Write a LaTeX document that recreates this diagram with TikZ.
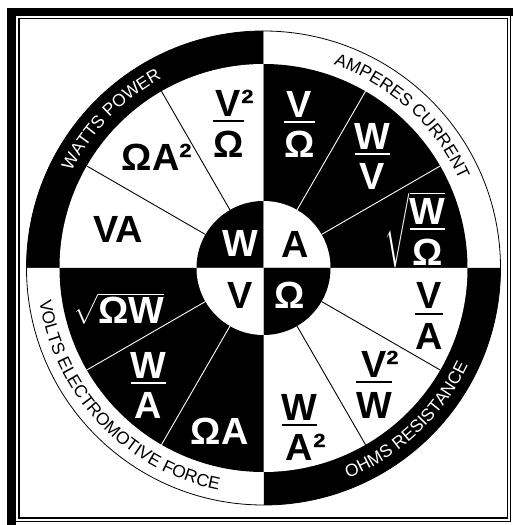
\documentclass[tikz,border=0pt]{standalone}
\usepackage{amsmath}
\usepackage{fontspec}
\setmainfont{Liberation Sans}
\usetikzlibrary{decorations.text}
\setlength{\arrayrulewidth}{2pt}
\renewcommand{\arraystretch}{0}
% superscript two that does not widen the fraction
\newcommand{\sqd}{\rlap{²}}
\newcommand{\frc}[2]{\begin{tabular}{@{}c@{}}#1\rule[-4pt]{0pt}{0pt}\\\hline\rule{0pt}{35pt}#2\end{tabular}}
\newcommand{\ringfont}{\fontsize{17.5}{18}\selectfont}
\tikzset{
  big/.style={font=\bfseries\fontsize{38}{40}\selectfont, inner sep=0pt},
  bigw/.style={big, text=white},
  ringtext/.style={decorate, decoration={text along path, text align=center, text color=#1}},
  spoke/.style={line width=0.9pt, draw=#1}
}

\begin{document}
\begin{tikzpicture}[x=1bp, y=1bp]
\useasboundingbox (-263.5,-257) rectangle (249.5,268);
\fill[white] (-263.5,-257) rectangle (249.5,268);

% frame
\begin{scope}[shift={(-263.5,268)}, yscale=-1]
  \fill (7.5,8) rectangle (16,525);
  \fill (7.5,8) rectangle (513,16);
  \draw[line width=1.3] (19,18.5) rectangle (507.5,518);
  \draw[line width=1.3] (510.5,16) -- (510.5,521.5) -- (16,521.5);
\end{scope}

% quadrants: ring, sector, hub
\foreach \a/\r/\m in {90/black/white, 0/white/black, 270/black/white, 180/white/black} {
  \fill[\r] (0,0) -- (\a:237) arc[start angle=\a, delta angle=90, radius=237] -- cycle;
  \fill[\m] (0,0) -- (\a:204) arc[start angle=\a, delta angle=90, radius=204] -- cycle;
  \fill[\r] (0,0) -- (\a:67) arc[start angle=\a, delta angle=90, radius=67] -- cycle;
}
\draw[line width=0.8] (0,0) circle[radius=237];

\foreach \a/\c in {30/white, 60/white, 120/black, 150/black, 210/white, 240/white, 300/black, 330/black}
  \draw[spoke=\c] (\a:67) -- (\a:204);

% ring labels
\path[ringtext=white, decoration={text={|\ringfont|WATTS POWER}}]
  (185.75:215) arc[start angle=185.75, end angle=85.75, radius=215];
\path[ringtext=black, decoration={text={|\ringfont|AMPERES CURRENT}}]
  (97.6:215) arc[start angle=97.6, end angle=-2.4, radius=215];
\path[ringtext=white, decoration={text={|\ringfont|OHMS RESISTANCE}}]
  (-96.75:226.5) arc[start angle=-96.75, end angle=3.25, radius=226.5];
\path[ringtext=black, decoration={text={|\ringfont|VOLTS ELECTROMOTIVE FORCE}}]
  (168.5:226.5) arc[start angle=168.5, end angle=278.5, radius=226.5];

% hub
\node[bigw] (watt) at (-23.5,25) {W};
\node[big] (amp) at (31.5,24) {A};
\node[big] (volt) at (-23.5,-27) {V};
\node[bigw] (ohm) at (26.5,-27) {Ω};

% watts
\node[big] (wVsqO) at (-35,144.5) {\frc{V\sqd}{Ω}};
\node[big] (wOAsq) at (-106.5,111) {ΩA²};
\node[big] (wVA) at (-145.5,39) {VA};

% amperes
\node[bigw] (aVO) at (36,143.5) {\frc{V}{Ω}};
\node[bigw] (aWV) at (109,111.5) {\frc{W}{V}};
\node[bigw] (aRootWO) at (151.5,38) {$\sqrt{\text{\frc{W}{Ω}}}$};

% ohms
\node[big] (oVA) at (165.5,-48) {\frc{V}{A}};
\node[big] (oVsqW) at (110.5,-116.5) {\frc{V\sqd}{W}};
\node[big] (oWAsq) at (36,-159.5) {\frc{W}{A\sqd}};

% volts
\node[bigw] (vRootOW) at (-144.5,-40.5) {$\sqrt{\text{ΩW}}$};
\node[bigw] (vWA) at (-115,-117.5) {\frc{W}{A}};
\node[bigw] (vOA) at (-44,-163.5) {ΩA};
\end{tikzpicture}
\end{document}
